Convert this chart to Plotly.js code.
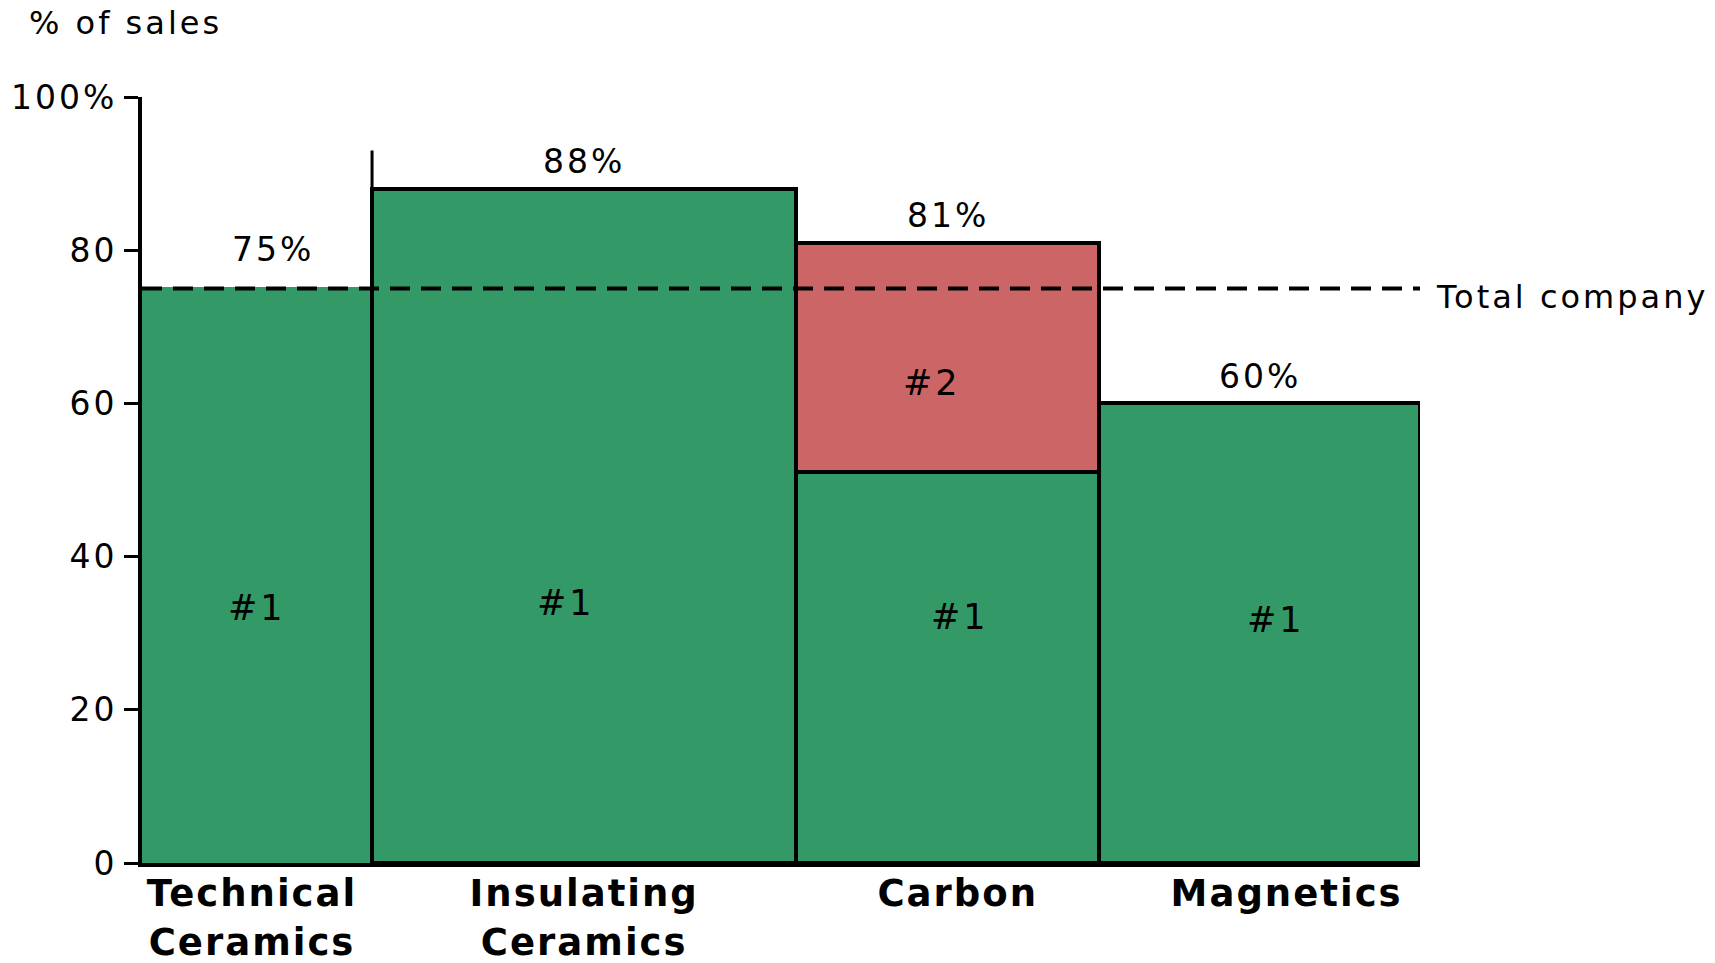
<!DOCTYPE html>
<html>
<head>
<meta charset="utf-8">
<script src="https://cdn.plot.ly/plotly-3.0.1.min.js"></script>
<style>
  html, body { margin: 0; padding: 0; background: #fff; }
  #chart { width: 1715px; height: 963px; }
  .ytick text, .annotation-text { letter-spacing: 3px; }
  .xtick text { letter-spacing: 2px; }
</style>
</head>
<body>
<div id="chart"></div>
<script>
// Business units, share of group sales (bar widths) and market position
const categories = ['Technical<br>Ceramics', 'Insulating<br>Ceramics', 'Carbon', 'Magnetics'];
const salesShare = [18, 33.2, 23.7, 25.1];          // % of group sales -> bar width
const rank1Share = [75, 88, 51, 60];                // % of sales where the unit is #1
const rank2Share = [null, null, 30, null];          // % of sales where the unit is #2
const totalLabels = ['75%', '88%', '81%', '60%'];
const totalCompany = 75;                            // group average, % of sales at #1/#2
const yTickVals = [0, 20, 40, 60, 80, 100];
const yTickText = ['0', '20', '40', '60', '80', '100%'];

const GREEN = '#339966';
const RED = '#CC6666';
const FONT = 'DejaVu Sans, Verdana, sans-serif';

const W = 1715, H = 963;
const M = { l: 142, r: 295, t: 97, b: 100 };
const plotW = W - M.l - M.r;

// Bar positions from cumulative widths
const lefts = [];
let acc = 0;
salesShare.forEach(w => { lefts.push(acc); acc += w; });
const centers = salesShare.map((w, i) => lefts[i] + w / 2);
const totals = rank1Share.map((v, i) => v + (rank2Share[i] || 0));
const pxToX = px => px * acc / plotW;

// category captions sit slightly off the bar centres
const captionNudgePx = [-5, 0, 10, 27];
const captionX = centers.map((c, i) => c + pxToX(captionNudgePx[i]));

// a bar whose top meets the average line only shows the dashed line there
const rank1Outline = totals.map((t, i) =>
  (Math.abs(t - totalCompany) < 0.5 && rank2Share[i] == null) ? GREEN : '#000');

const traces = [
  {
    type: 'bar', x: centers, y: rank1Share, width: salesShare,
    marker: { color: GREEN, line: { color: rank1Outline, width: 4 } },
    hoverinfo: 'skip', name: '#1'
  },
  {
    type: 'bar', x: centers, y: rank2Share, width: salesShare,
    marker: { color: RED, line: { color: '#000', width: 4 } },
    hoverinfo: 'skip', name: '#2'
  }
];

const annotations = [];

// Total share above each bar
totals.forEach((t, i) => {
  const nearAverage = Math.abs(t - totalCompany) < 3;
  annotations.push({
    x: centers[i], y: t, xref: 'x', yref: 'y', text: totalLabels[i],
    showarrow: false, xanchor: 'center', yanchor: 'middle',
    yshift: nearAverage ? 39 : 27, xshift: nearAverage ? 16 : 0,
    font: { family: FONT, size: 33, color: '#000' }
  });
});

// Market position labels inside the bars
const rankLabels = [
  { x: centers[0], y: 33.3, text: '#1', xshift: 0 },
  { x: centers[1], y: 34.0, text: '#1', xshift: -18 },
  { x: centers[2], y: 32.1, text: '#1', xshift: 12 },
  { x: centers[3], y: 31.7, text: '#1', xshift: 16 },
  { x: centers[2], y: 62.6, text: '#2', xshift: -16 }
];
rankLabels.forEach(r => annotations.push({
  x: r.x, y: r.y, xref: 'x', yref: 'y', text: r.text, showarrow: false,
  xanchor: 'center', yanchor: 'middle', xshift: r.xshift,
  font: { family: FONT, size: 35, color: '#000' }
}));

// Average line label
annotations.push({
  x: acc, y: totalCompany, xref: 'x', yref: 'y', text: 'Total company',
  showarrow: false, xanchor: 'left', yanchor: 'middle', xshift: 14, yshift: -8,
  font: { family: FONT, size: 32, color: '#000' }
});

// Axis unit
annotations.push({
  x: 0, y: 1, xref: 'paper', yref: 'paper', text: '% of sales',
  showarrow: false, xanchor: 'left', yanchor: 'middle', xshift: -115, yshift: 74,
  font: { family: FONT, size: 32, color: '#000' }
});

const shapes = [
  // group average
  {
    type: 'line', xref: 'x', yref: 'y', x0: 0, x1: acc, y0: totalCompany, y1: totalCompany,
    line: { color: '#000', width: 4, dash: '20px,11px' }, layer: 'above'
  },
  // divider between the ceramics units
  {
    type: 'line', xref: 'x', yref: 'y', x0: lefts[1], x1: lefts[1], y0: 0, y1: 93,
    line: { color: '#000', width: 3 }, layer: 'above'
  }
];

const layout = {
  width: W, height: H,
  margin: { l: M.l, r: M.r, t: M.t, b: M.b, pad: 0 },
  paper_bgcolor: '#fff', plot_bgcolor: '#fff',
  showlegend: false, barmode: 'stack', bargap: 0,
  font: { family: FONT, color: '#000' },
  xaxis: {
    range: [0, acc], tickvals: captionX, ticktext: categories,
    showgrid: false, zeroline: false, showline: true, linecolor: '#000', linewidth: 4,
    ticks: '', ticklen: 0, fixedrange: true, ticklabelstandoff: -5,
    tickfont: { family: FONT, size: 37, weight: 'bold', color: '#000' }
  },
  yaxis: {
    range: [0, 100], tickvals: yTickVals, ticktext: yTickText,
    showgrid: false, zeroline: false, showline: true, linecolor: '#000', linewidth: 4,
    ticks: 'outside', ticklen: 14, tickwidth: 3, tickcolor: '#000', fixedrange: true,
    tickfont: { family: FONT, size: 33, color: '#000' }
  },
  annotations: annotations,
  shapes: shapes
};

Plotly.newPlot('chart', traces, layout, { displayModeBar: false, staticPlot: true });
</script>
</body>
</html>
